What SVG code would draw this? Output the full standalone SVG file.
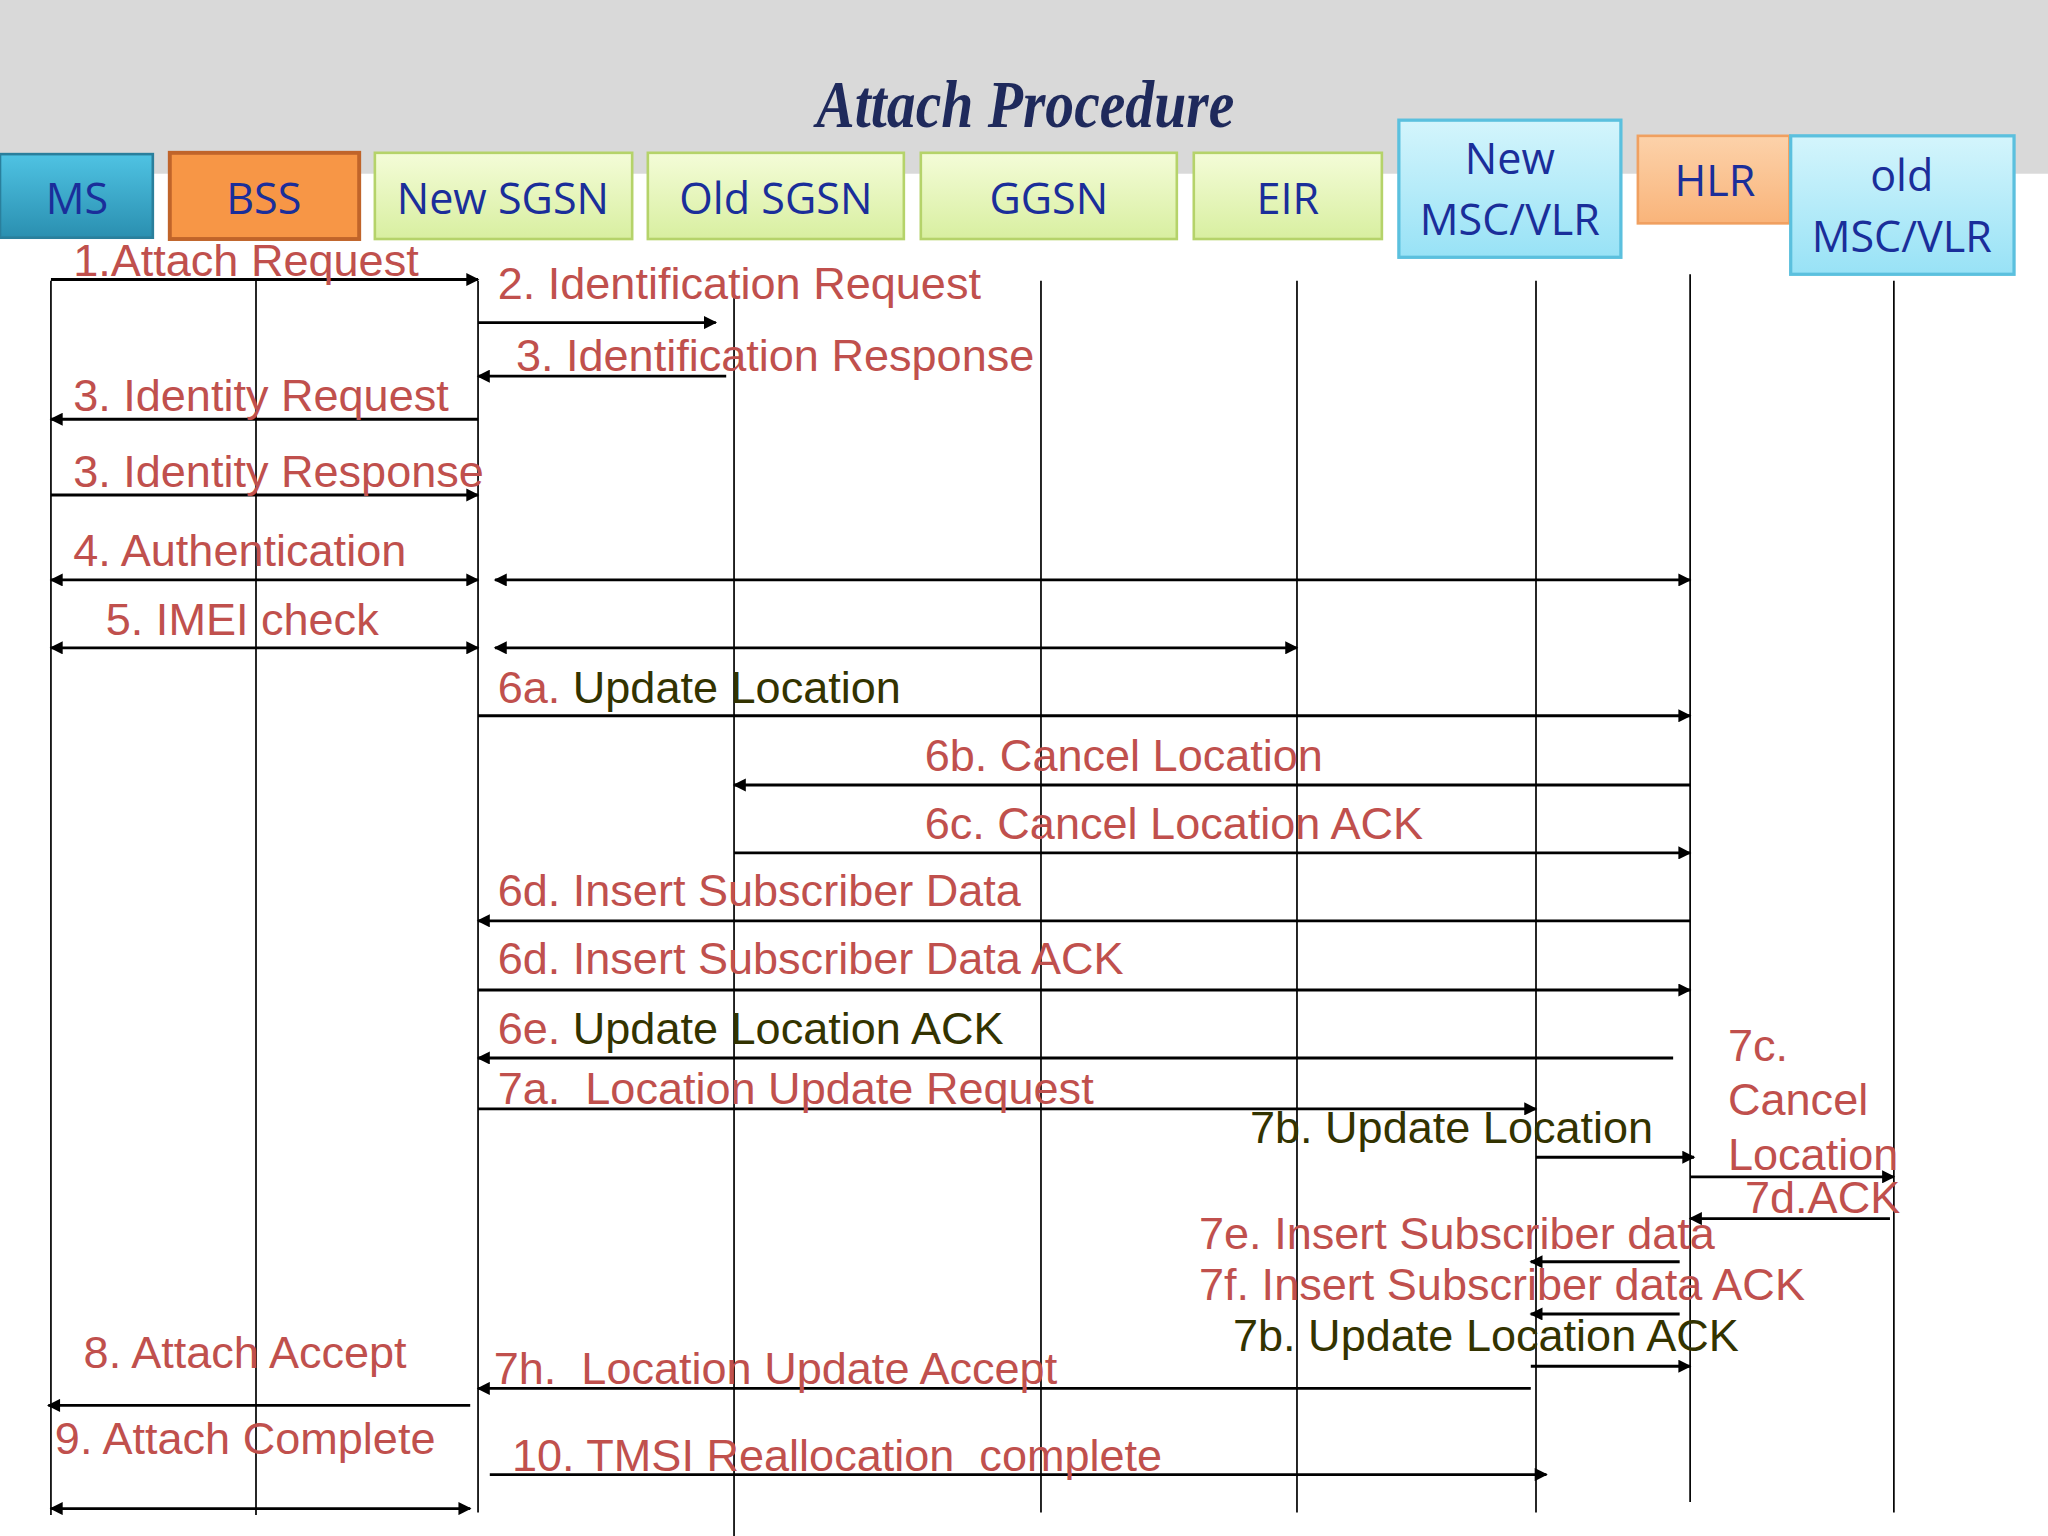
<svg xmlns="http://www.w3.org/2000/svg" width="2048" height="1536" viewBox="0 0 2048 1536">
<defs>
<marker id="ah" viewBox="0 0 10 10" refX="9" refY="5" markerWidth="11" markerHeight="10" orient="auto-start-reverse" markerUnits="userSpaceOnUse"><path d="M0,0 L10,5 L0,10 z" fill="#000"/></marker>
<linearGradient id="gMS" x1="0" y1="0" x2="0" y2="1"><stop offset="0" stop-color="#4fc3e3"/><stop offset="1" stop-color="#2a8fb0"/></linearGradient>
<linearGradient id="gG" x1="0" y1="0" x2="0" y2="1"><stop offset="0" stop-color="#f4fcd8"/><stop offset="1" stop-color="#d8efa0"/></linearGradient>
<linearGradient id="gC" x1="0" y1="0" x2="0" y2="1"><stop offset="0" stop-color="#d4f5fc"/><stop offset="1" stop-color="#98e2f6"/></linearGradient>
<linearGradient id="gH" x1="0" y1="0" x2="0" y2="1"><stop offset="0" stop-color="#fcd2aa"/><stop offset="1" stop-color="#f9b47a"/></linearGradient>
</defs>
<style>
.nt{font-family:"Open Sans","Liberation Sans",sans-serif;font-size:33px;fill:#1a2e9a;text-anchor:middle}
.r{font-family:"Liberation Sans",Arial,sans-serif;font-size:34.5px;fill:#c0504d;white-space:pre}
.o{fill:#333300}
.ll{stroke:#000;stroke-width:1.3;fill:none}
.m{stroke:#000;stroke-width:2.2;fill:none;marker-end:url(#ah)}
.d{stroke:#000;stroke-width:2.2;fill:none;marker-end:url(#ah);marker-start:url(#ah)}
</style>
<rect width="2048" height="1536" fill="#fff"/>
<g transform="scale(1.306122)">
<rect x="0" y="0" width="1568" height="133" fill="#d9d9d9"/>
<text x="785" y="97" font-family="Liberation Serif,serif" font-style="italic" font-weight="bold" font-size="52" fill="#1f2a5c" text-anchor="middle" textLength="320" lengthAdjust="spacingAndGlyphs">Attach Procedure</text>
<g id="MS"><rect x="0" y="118" width="117" height="64" fill="url(#gMS)" stroke="#2a7f9c" stroke-width="2"/><text class="nt" x="59" y="164">MS</text></g>
<g id="BSS"><rect x="130" y="117" width="145" height="66" fill="#f79646" stroke="#c0642a" stroke-width="3"/><text class="nt" x="202" y="164">BSS</text></g>
<g id="NewSGSN"><rect x="287" y="117" width="197" height="66" fill="url(#gG)" stroke="#b5d36a" stroke-width="2"/><text class="nt" x="385" y="164">New SGSN</text></g>
<g id="OldSGSN"><rect x="496" y="117" width="196" height="66" fill="url(#gG)" stroke="#b5d36a" stroke-width="2"/><text class="nt" x="594" y="164">Old SGSN</text></g>
<g id="GGSN"><rect x="705" y="117" width="196" height="66" fill="url(#gG)" stroke="#b5d36a" stroke-width="2"/><text class="nt" x="803" y="164">GGSN</text></g>
<g id="EIR"><rect x="914" y="117" width="144" height="66" fill="url(#gG)" stroke="#b5d36a" stroke-width="2"/><text class="nt" x="986" y="164">EIR</text></g>
<g id="NewMSC"><rect x="1071" y="92" width="170" height="105" fill="url(#gC)" stroke="#5bc0de" stroke-width="2.5"/><text class="nt" x="1156" y="133">New</text><text class="nt" x="1156" y="180">MSC/VLR</text></g>
<g id="HLR"><rect x="1254" y="104" width="116" height="67" fill="url(#gH)" stroke="#f0a060" stroke-width="2"/><text class="nt" x="1313" y="150">HLR</text></g>
<g id="OldMSC"><rect x="1371" y="104" width="171" height="106" fill="url(#gC)" stroke="#5bc0de" stroke-width="2.5"/><text class="nt" x="1456" y="146">old</text><text class="nt" x="1456" y="193">MSC/VLR</text></g>
<g id="lifelines">
<line class="ll" x1="39" y1="215" x2="39" y2="1160"/><line class="ll" x1="196" y1="215" x2="196" y2="1160"/>
<line class="ll" x1="366" y1="215" x2="366" y2="1158"/><line class="ll" x1="562" y1="215" x2="562" y2="1176"/>
<line class="ll" x1="797" y1="215" x2="797" y2="1158"/><line class="ll" x1="993" y1="215" x2="993" y2="1158"/>
<line class="ll" x1="1176" y1="215" x2="1176" y2="1158"/><line class="ll" x1="1294" y1="210" x2="1294" y2="1150"/>
<line class="ll" x1="1450" y1="215" x2="1450" y2="1158"/>
</g>
<g id="connectors">
<line class="m" x1="39" y1="214" x2="366" y2="214"/>
<line class="m" x1="366" y1="247" x2="548" y2="247"/>
<line class="m" x1="556" y1="288" x2="366" y2="288"/>
<line class="m" x1="366" y1="321" x2="39" y2="321"/>
<line class="m" x1="39" y1="379" x2="366" y2="379"/>
<line class="d" x1="39" y1="444" x2="366" y2="444"/>
<line class="d" x1="379" y1="444" x2="1294" y2="444"/>
<line class="d" x1="39" y1="496" x2="366" y2="496"/>
<line class="d" x1="379" y1="496" x2="993" y2="496"/>
<line class="m" x1="366" y1="548" x2="1294" y2="548"/>
<line class="m" x1="1294" y1="601" x2="562" y2="601"/>
<line class="m" x1="562" y1="653" x2="1294" y2="653"/>
<line class="m" x1="1294" y1="705" x2="366" y2="705"/>
<line class="m" x1="366" y1="758" x2="1294" y2="758"/>
<line class="m" x1="1281" y1="810" x2="366" y2="810"/>
<line class="m" x1="366" y1="849" x2="1176" y2="849"/>
<line class="m" x1="1176" y1="886" x2="1297" y2="886"/>
<line class="m" x1="1294" y1="901" x2="1450" y2="901"/>
<line class="m" x1="1447" y1="933" x2="1294" y2="933"/>
<line class="m" x1="1286" y1="966" x2="1172" y2="966"/>
<line class="m" x1="1286" y1="1006" x2="1172" y2="1006"/>
<line class="m" x1="1172" y1="1046" x2="1294" y2="1046"/>
<line class="m" x1="360" y1="1076" x2="37" y2="1076"/>
<line class="m" x1="1172" y1="1063" x2="366" y2="1063"/>
<line class="d" x1="39" y1="1155" x2="360" y2="1155"/>
<line class="m" x1="375" y1="1129" x2="1184" y2="1129"/>
</g>
<g id="labels">
<text class="r" x="56" y="211">1.Attach Request</text>
<text class="r" x="381" y="229">2. Identification Request</text>
<text class="r" x="395" y="284">3. Identification Response</text>
<text class="r" x="56" y="315">3. Identity Request</text>
<text class="r" x="56" y="373">3. Identity Response</text>
<text class="r" x="56" y="433">4. Authentication</text>
<text class="r" x="81" y="486">5. IMEI check</text>
<text class="r" x="381" y="538">6a. <tspan class="o">Update Location</tspan></text>
<text class="r" x="708" y="590">6b. Cancel Location</text>
<text class="r" x="708" y="642">6c. Cancel Location ACK</text>
<text class="r" x="381" y="694">6d. Insert Subscriber Data</text>
<text class="r" x="381" y="746">6d. Insert Subscriber Data ACK</text>
<text class="r" x="381" y="799">6e. <tspan class="o">Update Location ACK</tspan></text>
<text class="r" x="381" y="845">7a.  Location Update Request</text>
<text class="r o" x="957" y="875">7b. Update Location</text>
<text class="r" x="1323" y="812">7c.</text>
<text class="r" x="1323" y="854">Cancel</text>
<text class="r" x="1323" y="896">Location</text>
<text class="r" x="1336" y="929">7d.ACK</text>
<text class="r" x="918" y="956">7e. Insert Subscriber data</text>
<text class="r" x="918" y="995">7f. Insert Subscriber data ACK</text>
<text class="r o" x="944" y="1034">7b. Update Location ACK</text>
<text class="r" x="64" y="1047">8. Attach Accept</text>
<text class="r" x="378" y="1060">7h.  Location Update Accept</text>
<text class="r" x="42" y="1113">9. Attach Complete</text>
<text class="r" x="392" y="1126">10. TMSI Reallocation  complete</text>
</g>
</g>
</svg>
